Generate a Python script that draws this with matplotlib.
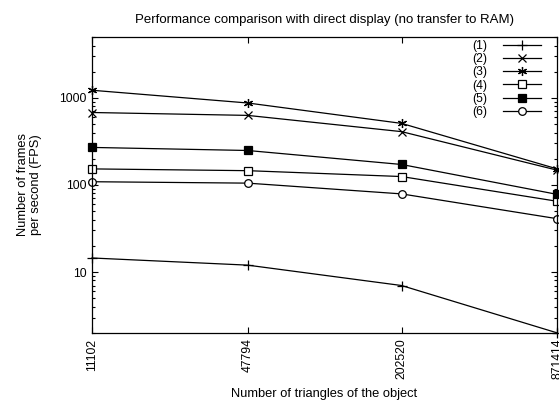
import matplotlib
matplotlib.use('Agg')
import matplotlib.pyplot as plt
from matplotlib.ticker import FixedLocator, NullFormatter, LogLocator

plt.rcParams['font.family'] = ['Liberation Sans', 'DejaVu Sans']

# 데이터
triangles = [11102, 47794, 202520, 871414]
fps_1 = [14.5, 12, 7, 2]
fps_2 = [680, 630, 410, 148]
fps_3 = [1225, 875, 510, 153]
fps_4 = [153, 146, 125, 65]
fps_5 = [270, 249, 172, 78]
fps_6 = [109, 105, 79, 41]
labels = ['(1)', '(2)', '(3)', '(4)', '(5)', '(6)']

series = [fps_1, fps_2, fps_3, fps_4, fps_5, fps_6]
markers = [
    dict(marker='+', markersize=7),
    dict(marker='x', markersize=5.5),
    dict(marker=(6, 2, 0), markersize=6.5),
    dict(marker='s', markersize=5.5, markerfacecolor='white'),
    dict(marker='s', markersize=5.5, markerfacecolor='black'),
    dict(marker='o', markersize=5.5, markerfacecolor='white'),
]

fig = plt.figure(figsize=(5.59, 4.03), dpi=100)
ax = fig.add_axes([0.1646, 0.174, 0.832, 0.734])

for vals, lab, mk in zip(series, labels, markers):
    ax.plot(triangles, vals, color='black', linewidth=0.9, label=lab,
            markeredgewidth=0.9, clip_on=False, **mk)

ax.set_xscale('log')
ax.set_yscale('log')
ax.set_xlim(triangles[0], triangles[-1])
ax.set_ylim(2, 5000)

ax.xaxis.set_major_locator(FixedLocator(triangles))
ax.set_xticklabels([str(t) for t in triangles], rotation=90)
ax.xaxis.set_minor_locator(FixedLocator([]))
ax.set_yticks([10, 100, 1000])
ax.set_yticklabels(['10', '100', '1000'])
ax.yaxis.set_minor_locator(LogLocator(base=10, subs=range(2, 10)))
ax.yaxis.set_minor_formatter(NullFormatter())

ax.tick_params(which='both', direction='in', top=True, right=True,
               labelsize=8.7, width=0.8)
ax.tick_params(which='major', length=4, pad=4)
ax.tick_params(which='minor', length=2)
for s in ax.spines.values():
    s.set_linewidth(0.9)

ax.set_xlabel('Number of triangles of the object', fontsize=9.3, labelpad=6)
ax.set_ylabel('Number of frames\nper second (FPS)', fontsize=9.3, labelpad=12)
ax.set_title('Performance comparison with direct display (no transfer to RAM)',
             fontsize=9.5, pad=10)

ax.legend(loc='upper right', bbox_to_anchor=(0.966, 0.99), frameon=False,
          markerfirst=False, fontsize=8.7, handlelength=3.2,
          labelspacing=0.1, handletextpad=1.3, borderaxespad=0.0,
          borderpad=0.0)

fig.savefig('out.png', dpi=100)
